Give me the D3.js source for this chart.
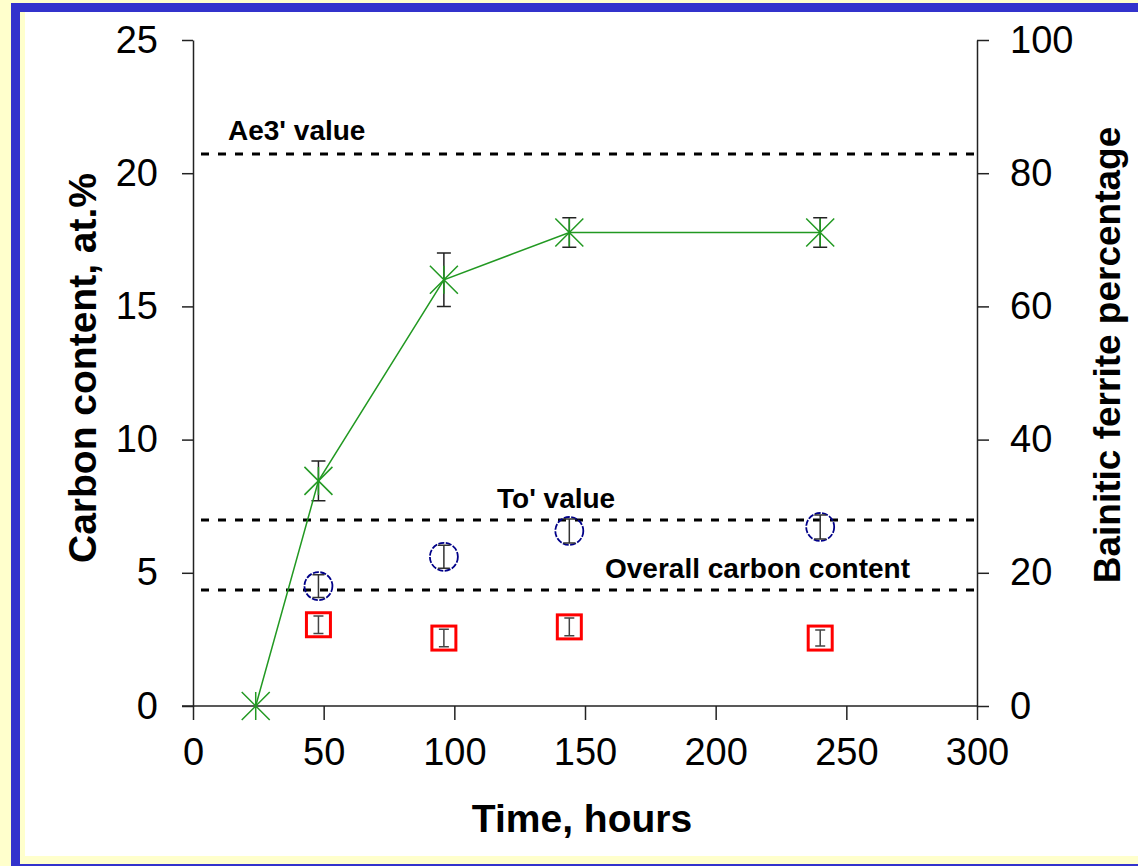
<!DOCTYPE html>
<html>
<head>
<meta charset="utf-8">
<script src="https://cdn.jsdelivr.net/npm/d3@7"></script>
<style>
  html, body { margin: 0; padding: 0; background: #ffffcc; }
  svg { display: block; font-family: "Liberation Sans", Arial, sans-serif; }
</style>
</head>
<body>
<svg width="1138" height="866"></svg>
<script>
// ---------- data ----------
// bainitic ferrite percentage (right axis)
const ferriteHours = [24, 48, 96, 144, 240];
const ferritePct = [0, 33.8, 64.0, 71.1, 71.1];
const ferritePctErr = [0, 3.0, 4.0, 2.2, 2.2];

// carbon content measurements (left axis)
const carbonHours = [48, 96, 144, 240];
const austeniteC = [4.5, 5.6, 6.57, 6.72];   // blue circles
const austeniteCErr = [0.43, 0.43, 0.45, 0.45];
const ferriteC = [3.05, 2.55, 2.97, 2.55];   // red squares
const ferriteCErr = [0.33, 0.33, 0.33, 0.3];

// dotted reference levels
const refLabels = ["Ae3' value", "To' value", "Overall carbon content"];
const refValues = [20.72, 6.98, 4.35];

const xTicks = [0, 50, 100, 150, 200, 250, 300];
const yLeftTicks = [0, 5, 10, 15, 20, 25];
const yRightTicks = [0, 20, 40, 60, 80, 100];

///////////// set up canvas
const svg = d3.select("svg"),
  width = +svg.attr("width"),
  height = +svg.attr("height");

// slide frame: yellow page, blue band, thin yellow strip, white panel
svg.append("rect").attr("x", 0).attr("y", 0).attr("width", width).attr("height", height).attr("fill", "#ffffcc");
svg.append("rect").attr("x", 11).attr("y", 3).attr("width", 1300).attr("height", 900).attr("fill", "#3333cc");
svg.append("rect").attr("x", 20).attr("y", 12).attr("width", 1300).attr("height", 852).attr("fill", "#ffffcc");
svg.append("rect").attr("x", 25).attr("y", 12).attr("width", 1300).attr("height", 844).attr("fill", "#ffffff");

const plot = { left: 193, right: 977, top: 40, bottom: 706 };

const x = d3.scaleLinear().domain([0, 300]).range([plot.left, plot.right]);
const yL = d3.scaleLinear().domain([0, 25]).range([plot.bottom, plot.top]);
const yR = d3.scaleLinear().domain([0, 100]).range([plot.bottom, plot.top]);

const axisColor = "#222";

// axes
const gx = svg.append("g")
  .attr("transform", `translate(0,${plot.bottom})`)
  .call(d3.axisBottom(x).tickValues(xTicks).tickSize(14).tickPadding(32).tickSizeOuter(0));
const gl = svg.append("g")
  .attr("transform", `translate(${plot.left},0)`)
  .call(d3.axisLeft(yL).tickValues(yLeftTicks).tickSize(11).tickPadding(24).tickSizeOuter(0));
const gr = svg.append("g")
  .attr("transform", `translate(${plot.right},0)`)
  .call(d3.axisRight(yR).tickValues(yRightTicks).tickSize(12).tickPadding(21).tickSizeOuter(0));

[gx, gl, gr].forEach((g) => {
  g.select(".domain").attr("stroke", axisColor).attr("stroke-width", 1.5);
  g.selectAll(".tick line").attr("stroke", axisColor).attr("stroke-width", 1.5);
  g.selectAll(".tick text")
    .attr("fill", "#000")
    .style("font-size", "38px")
    .style("font-family", "'Liberation Sans', Arial, sans-serif");
});
gx.selectAll(".tick text").attr("y", 32).attr("dy", "0.71em");
// x axis line pokes out a bit to the left like the original
gx.select(".domain").attr("d", `M182,0H${plot.right}`);

// reference dotted lines
const refG = svg.append("g");
refG.selectAll("line")
  .data(refValues)
  .enter()
  .append("line")
  .attr("x1", plot.left + 8)
  .attr("x2", plot.right - 2)
  .attr("y1", (d) => yL(d))
  .attr("y2", (d) => yL(d))
  .attr("stroke", "#000")
  .attr("stroke-width", 3)
  .attr("stroke-dasharray", "8,9");

const refLabelX = [228, 497, 605];
const refLabelGap = [14, 12, 12];
refG.selectAll("text")
  .data(refLabels)
  .enter()
  .append("text")
  .attr("x", (d, i) => refLabelX[i])
  .attr("y", (d, i) => yL(refValues[i]) - refLabelGap[i])
  .attr("font-size", 28)
  .attr("font-weight", "bold")
  .text((d) => d);

// error bar helper
function errorBars(g, xs, ys, errs, scale, cap, color) {
  const data = xs.map((h, i) => ({ h: h, v: ys[i], e: errs[i] })).filter((d) => d.e > 0);
  const eb = g.append("g").attr("stroke", color).attr("stroke-width", 1.5).attr("fill", "none");
  eb.selectAll("path")
    .data(data)
    .enter()
    .append("path")
    .attr("d", (d) => {
      const cx = x(d.h), t = scale(d.v + d.e), b = scale(d.v - d.e);
      return `M${cx},${t}V${b}M${cx - cap},${t}H${cx + cap}M${cx - cap},${b}H${cx + cap}`;
    });
}

// red squares (ferrite carbon)
const redG = svg.append("g");
redG.selectAll("rect")
  .data(carbonHours)
  .enter()
  .append("rect")
  .attr("x", (d) => x(d) - 12)
  .attr("y", (d, i) => yL(ferriteC[i]) - 12)
  .attr("width", 24)
  .attr("height", 24)
  .attr("fill", "none")
  .attr("stroke", "#ff0000")
  .attr("stroke-width", 3);
errorBars(redG, carbonHours, ferriteC, ferriteCErr, yL, 5, "#444");

// blue circles (austenite carbon)
const blueG = svg.append("g");
blueG.selectAll("circle")
  .data(carbonHours)
  .enter()
  .append("circle")
  .attr("cx", (d) => x(d))
  .attr("cy", (d, i) => yL(austeniteC[i]))
  .attr("r", 14)
  .attr("fill", "none")
  .attr("stroke", "#000088")
  .attr("stroke-width", 1.8)
  .attr("stroke-dasharray", "6,1.5");
errorBars(blueG, carbonHours, austeniteC, austeniteCErr, yL, 6, "#333");

// green line + star markers (bainitic ferrite)
const green = "#229922";
const greenG = svg.append("g");
errorBars(greenG, ferriteHours, ferritePct, ferritePctErr, yR, 7, "#222");
const line = d3.line()
  .x((d, i) => x(ferriteHours[i]))
  .y((d) => yR(d));
greenG.append("path")
  .datum(ferritePct)
  .attr("d", line)
  .attr("fill", "none")
  .attr("stroke", green)
  .attr("stroke-width", 1.5);
greenG.selectAll("path.star")
  .data(ferritePct)
  .enter()
  .append("path")
  .attr("class", "star")
  .attr("transform", (d, i) => `translate(${x(ferriteHours[i])},${yR(d)})`)
  .attr("d", "M-14,-14L14,14M-14,14L14,-14M0,-14V14")
  .attr("stroke", green)
  .attr("stroke-width", 1.5)
  .attr("fill", "none");

// axis titles
svg.append("text")
  .attr("x", 582)
  .attr("y", 832)
  .attr("text-anchor", "middle")
  .attr("font-size", 39)
  .attr("font-weight", "bold")
  .text("Time, hours");

svg.append("text")
  .attr("transform", "translate(96,368) rotate(-90)")
  .attr("text-anchor", "middle")
  .attr("font-size", 39)
  .attr("font-weight", "bold")
  .text("Carbon content, at.%");

svg.append("text")
  .attr("transform", "translate(1120,355) rotate(-90)")
  .attr("text-anchor", "middle")
  .attr("font-size", 37)
  .attr("font-weight", "bold")
  .text("Bainitic ferrite percentage");
</script>
</body>
</html>
